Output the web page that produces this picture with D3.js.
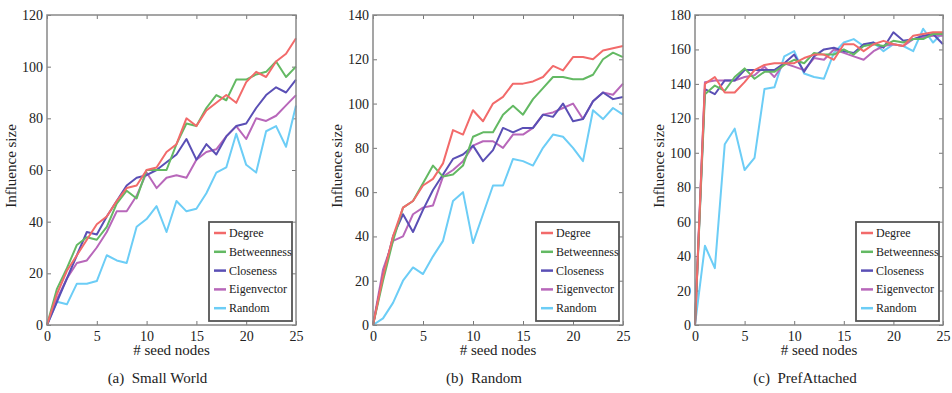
<!DOCTYPE html>
<html>
<head>
<meta charset="utf-8">
<script src="https://cdn.jsdelivr.net/npm/d3@7"></script>
<style>
  body { margin: 0; background: #fff; }
  svg { display: block; }
  svg text { font-family: 'Liberation Serif', 'Times New Roman', Times, 'DejaVu Serif', serif; fill: #222; }
</style>
</head>
<body>
<div id="chart"></div>
<script>
// seed nodes 0..25
const seedNodes = d3.range(0, 26);
const seriesNames = ['Degree', 'Betweenness', 'Closeness', 'Eigenvector', 'Random'];
const seriesColors = ['#f26a6a', '#63b963', '#5a4fb5', '#b867ba', '#6ccdf6'];

// (a) Small World
const smallDegree      = [0, 12, 21, 27, 33, 39, 42, 48, 53, 54, 60, 61, 67, 70, 80, 77, 83, 86, 89, 86, 94, 98, 96, 102, 105, 111];
const smallBetweenness = [0, 14, 22, 31, 34, 33, 38, 47, 52, 49, 60, 60, 60, 70, 78, 77, 84, 89, 87, 95, 95, 97, 98, 102, 96, 100];
const smallCloseness   = [0, 9, 18, 27, 36, 35, 42, 48, 54, 57, 58, 60, 63, 66, 72, 64, 70, 66, 73, 77, 78, 84, 89, 92, 90, 95];
const smallEigenvector = [0, 10, 18, 24, 25, 30, 36, 44, 44, 50, 59, 53, 57, 58, 57, 64, 67, 68, 73, 77, 72, 80, 79, 81, 85, 89];
const smallRandom      = [0, 9, 8, 16, 16, 17, 27, 25, 24, 38, 41, 46, 36, 48, 44, 45, 51, 59, 61, 74, 62, 59, 75, 77, 69, 85];

// (b) Random
const randDegree      = [0, 22, 40, 53, 56, 63, 66, 73, 88, 86, 97, 92, 100, 103, 109, 109, 110, 112, 117, 115, 121, 121, 120, 124, 125, 126];
const randBetweenness = [0, 20, 38, 53, 56, 64, 72, 67, 68, 72, 85, 87, 87, 95, 99, 95, 102, 107, 112, 112, 111, 111, 113, 120, 123, 121];
const randCloseness   = [0, 22, 40, 50, 42, 52, 61, 68, 75, 77, 81, 74, 79, 89, 87, 89, 89, 95, 94, 100, 92, 93, 101, 105, 102, 103];
const randEigenvector = [0, 25, 38, 40, 50, 53, 54, 67, 70, 74, 81, 83, 83, 80, 86, 86, 89, 95, 96, 98, 100, 93, 101, 105, 104, 109];
const randRandom      = [0, 3, 10, 20, 26, 23, 31, 38, 56, 60, 37, 50, 63, 63, 75, 74, 72, 80, 86, 85, 80, 74, 97, 93, 98, 95];

// (c) PrefAttached
const prefDegree      = [0, 140, 144, 135, 135, 141, 148, 151, 152, 152, 152, 155, 157, 157, 154, 163, 163, 159, 163, 165, 163, 162, 168, 169, 170, 170];
const prefBetweenness = [0, 134, 139, 136, 144, 149, 143, 147, 147, 151, 154, 152, 158, 157, 157, 160, 157, 162, 163, 162, 165, 164, 166, 166, 169, 169];
const prefCloseness   = [0, 137, 134, 142, 142, 148, 148, 148, 148, 152, 157, 147, 156, 160, 161, 159, 158, 163, 164, 161, 170, 165, 166, 168, 169, 163];
const prefEigenvector = [0, 141, 142, 142, 142, 144, 145, 150, 144, 152, 150, 148, 155, 154, 160, 158, 156, 154, 159, 162, 163, 162, 166, 167, 168, 168];
const prefRandom      = [0, 46, 33, 105, 114, 90, 97, 137, 138, 156, 159, 146, 144, 143, 158, 164, 166, 162, 164, 159, 163, 162, 159, 172, 164, 170];

const xTicks = [0, 5, 10, 15, 20, 25];
const smallYTicks = [0, 20, 40, 60, 80, 100, 120];
const randYTicks = [0, 20, 40, 60, 80, 100, 120, 140];
const prefYTicks = [0, 20, 40, 60, 80, 100, 120, 140, 160, 180];

const panels = [
  { caption: '(a)  Small World', left: 47, right: 296, yMax: 120, yTicks: smallYTicks,
    series: [smallDegree, smallBetweenness, smallCloseness, smallEigenvector, smallRandom] },
  { caption: '(b)  Random', left: 373, right: 623, yMax: 140, yTicks: randYTicks,
    series: [randDegree, randBetweenness, randCloseness, randEigenvector, randRandom] },
  { caption: '(c)  PrefAttached', left: 695, right: 943, yMax: 180, yTicks: prefYTicks,
    series: [prefDegree, prefBetweenness, prefCloseness, prefEigenvector, prefRandom] }
];

const width = 952, height = 393;
const plotTop = 15, plotBottom = 325;
const serif = "'Liberation Serif', 'Times New Roman', Times, 'DejaVu Serif', serif";

const svg = d3.select('#chart').append('svg')
  .attr('width', width)
  .attr('height', height)
  .attr('font-family', serif);

panels.forEach(p => {
  const x = d3.scaleLinear().domain([0, 25]).range([p.left, p.right]);
  const y = d3.scaleLinear().domain([0, p.yMax]).range([plotBottom, plotTop]);
  const g = svg.append('g');

  // ticks on all four sides, pointing inward
  const styleAxis = sel => {
    sel.attr('font-family', serif).attr('font-size', 14);
    sel.select('.domain').remove();
    sel.selectAll('line').attr('stroke', '#777');
    sel.selectAll('text').attr('fill', '#222');
  };

  g.append('g').attr('transform', `translate(0,${plotBottom})`)
    .call(d3.axisBottom(x).tickValues(xTicks).tickSize(-4).tickPadding(6))
    .call(styleAxis);
  g.append('g').attr('transform', `translate(0,${plotTop})`)
    .call(d3.axisTop(x).tickValues(xTicks).tickSize(-4).tickFormat(''))
    .call(styleAxis);
  g.append('g').attr('transform', `translate(${p.left},0)`)
    .call(d3.axisLeft(y).tickValues(p.yTicks).tickSize(-4).tickPadding(4))
    .call(styleAxis);
  g.append('g').attr('transform', `translate(${p.right},0)`)
    .call(d3.axisRight(y).tickValues(p.yTicks).tickSize(-4).tickFormat(''))
    .call(styleAxis);

  // lines
  const line = d3.line().x((d, i) => x(seedNodes[i])).y(d => y(d));
  const order = [4, 3, 2, 1, 0];
  order.forEach(k => {
    g.append('path')
      .datum(p.series[k])
      .attr('fill', 'none')
      .attr('stroke', seriesColors[k])
      .attr('stroke-width', 2)
      .attr('stroke-linejoin', 'round')
      .attr('d', line);
  });

  // frame
  g.append('rect')
    .attr('x', p.left).attr('y', plotTop)
    .attr('width', p.right - p.left).attr('height', plotBottom - plotTop)
    .attr('fill', 'none').attr('stroke', '#888').attr('stroke-width', 1.5);

  // legend
  const lgW = 83, lgH = 99;
  const lgX = p.right - 4 - lgW, lgY = 222;
  const lg = g.append('g').attr('transform', `translate(${lgX},${lgY})`);
  lg.append('rect').attr('width', lgW).attr('height', lgH)
    .attr('fill', '#fff').attr('stroke', '#555').attr('stroke-width', 1.8);
  seriesNames.forEach((name, i) => {
    const yy = 11 + i * 18.8;
    lg.append('line').attr('x1', 5).attr('x2', 17).attr('y1', yy).attr('y2', yy)
      .attr('stroke', seriesColors[i]).attr('stroke-width', 2.5);
    lg.append('text').attr('x', 20).attr('y', yy + 4)
      .attr('font-size', 12).text(name);
  });

  // axis titles
  const cx = (p.left + p.right) / 2;
  g.append('text').attr('x', cx).attr('y', 355)
    .attr('text-anchor', 'middle').attr('font-size', 15).text('# seed nodes');
  g.append('text')
    .attr('transform', `translate(${p.left - 31},${(plotTop + plotBottom) / 2 - 4}) rotate(-90)`)
    .attr('text-anchor', 'middle').attr('font-size', 15).text('Influence size');

  g.append('text').attr('x', cx - 14).attr('y', 383)
    .attr('text-anchor', 'middle').attr('font-size', 15)
    .attr('xml:space', 'preserve').style('white-space', 'pre').text(p.caption);
});
</script>
</body>
</html>
